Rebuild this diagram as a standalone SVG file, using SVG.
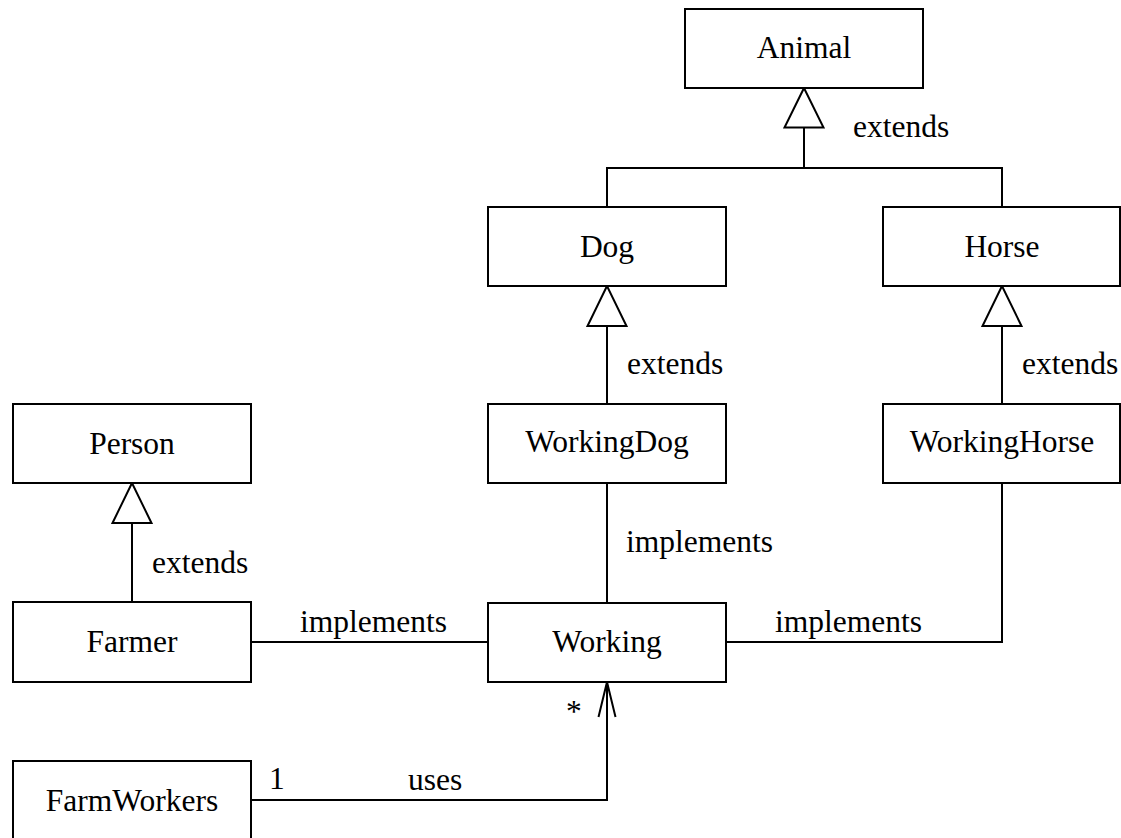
<svg xmlns="http://www.w3.org/2000/svg" width="1121" height="838" viewBox="0 0 1121 838">
<style>
text{font-family:"Liberation Serif","Times New Roman",serif;font-size:31.5px;fill:#000}
.box{fill:#fff;stroke:#000;stroke-width:2}
.name{text-anchor:middle}
.ln{fill:none;stroke:#000;stroke-width:2}
.tri{fill:#fff;stroke:#000;stroke-width:2;stroke-linejoin:miter}
</style>
<rect width="1121" height="838" fill="#fff"/>
<g id="connectors">
<path class="ln" d="M607,207 V168 H1002 V207"/>
<path class="ln" d="M804,168 V127.5"/>
<polygon class="tri" points="804,88 784.5,127.5 823.5,127.5"/>
<path class="ln" d="M607,326 V405"/>
<polygon class="tri" points="607,286 587.5,326 626.5,326"/>
<path class="ln" d="M1002,326 V405"/>
<polygon class="tri" points="1002,286 982.5,326 1021.5,326"/>
<path class="ln" d="M132,523 V602"/>
<polygon class="tri" points="132,483 112.5,523 151.5,523"/>
<path class="ln" d="M607,483 V603"/>
<path class="ln" d="M251,642 H488"/>
<path class="ln" d="M726,642 H1002 V483"/>
<path class="ln" d="M251,800 H607 V682"/>
<path class="ln" d="M598.5,717 L607,682 L615.5,717"/>
<text x="853" y="137">extends</text>
<text x="627" y="374">extends</text>
<text x="1022" y="374">extends</text>
<text x="152" y="573">extends</text>
<text x="626" y="552">implements</text>
<text x="300" y="632">implements</text>
<text x="775" y="632">implements</text>
<text x="566" y="722">*</text>
<text x="269" y="789">1</text>
<text x="408" y="790">uses</text>
</g>
<g id="animal"><rect class="box" x="685" y="9" width="238" height="79"/><text class="name" x="804" y="58">Animal</text></g>
<g id="dog"><rect class="box" x="488" y="207" width="238" height="79"/><text class="name" x="607" y="257">Dog</text></g>
<g id="horse"><rect class="box" x="883" y="207" width="237" height="79"/><text class="name" x="1002" y="257">Horse</text></g>
<g id="person"><rect class="box" x="13" y="404" width="238" height="79"/><text class="name" x="132" y="454">Person</text></g>
<g id="workingdog"><rect class="box" x="488" y="404" width="238" height="79"/><text class="name" x="607" y="452">WorkingDog</text></g>
<g id="workinghorse"><rect class="box" x="883" y="404" width="237" height="79"/><text class="name" x="1002" y="452">WorkingHorse</text></g>
<g id="farmer"><rect class="box" x="13" y="602" width="238" height="80"/><text class="name" x="132" y="652">Farmer</text></g>
<g id="working"><rect class="box" x="488" y="603" width="238" height="79"/><text class="name" x="607" y="652">Working</text></g>
<g id="farmworkers"><rect class="box" x="13" y="761" width="238" height="80"/><text class="name" x="132" y="811">FarmWorkers</text></g>
</svg>
